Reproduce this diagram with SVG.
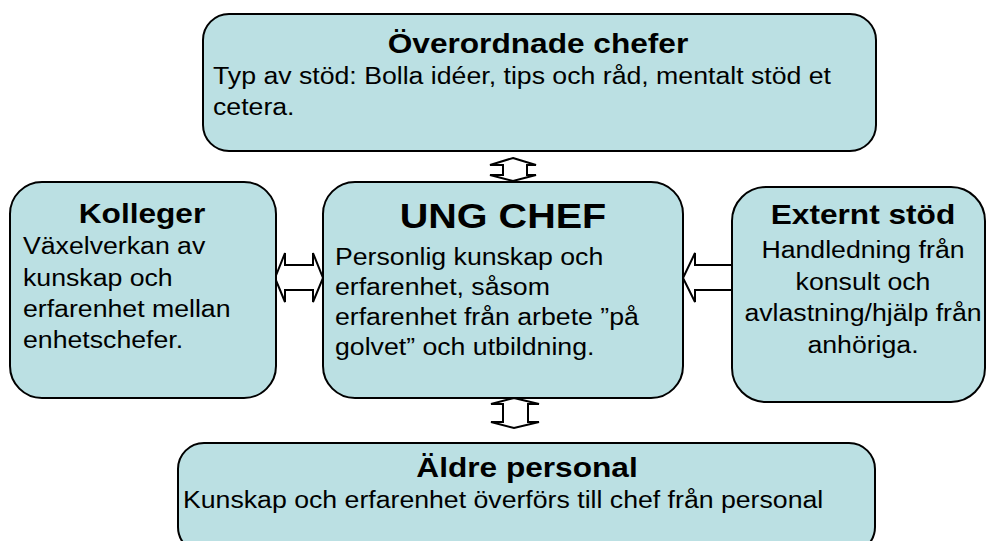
<svg xmlns="http://www.w3.org/2000/svg" width="987" height="541" viewBox="0 0 987 541">
<style>
.box{fill:#BBE0E3;stroke:#000;stroke-width:2}
.t{font-family:"Liberation Sans",Arial,sans-serif;fill:#000}
.h{font-weight:bold;font-size:28px}
.b{font-size:23px}
.arr{fill:#fff;stroke:#000;stroke-width:2;stroke-linejoin:miter}
</style>
<rect width="987" height="541" fill="#fff"/>
<g id="connectors">
<path class="arr" d="M513,158 L536,165 L527,165 L527,175 L536,175 L513,181 L490,175 L503,175 L503,165 L490,165 Z"/>
<path class="arr" d="M514,398 L539,404 L528,404 L528,422 L539,422 L514,428 L491,422 L503,422 L503,404 L491,404 Z"/>
<path class="arr" d="M275,278 L285,253 L285,265 L313,265 L313,253 L323,278 L313,302 L313,290 L285,290 L285,302 Z"/>
<path class="arr" d="M683,278 L695,253 L695,265 L732,265 L732,290 L695,290 L695,302 Z"/>
</g>
<g id="overordnade">
<rect class="box" x="203" y="14" width="673" height="137" rx="26"/>
<text class="t h" transform="translate(538,53) scale(1.13,1)" text-anchor="middle">Överordnade chefer</text>
<text class="t b" transform="translate(213,84) scale(1.16,1)">Typ av stöd: Bolla idéer, tips och råd, mentalt stöd et</text>
<text class="t b" transform="translate(213,115) scale(1.16,1)">cetera.</text>
</g>
<g id="kolleger">
<rect class="box" x="10" y="182" width="266" height="216" rx="32"/>
<text class="t h" transform="translate(142,223) scale(1.13,1)" text-anchor="middle">Kolleger</text>
<text class="t b" transform="translate(23,254) scale(1.16,1)">Växelverkan av</text>
<text class="t b" transform="translate(23,286) scale(1.16,1)">kunskap och</text>
<text class="t b" transform="translate(23,317) scale(1.16,1)">erfarenhet mellan</text>
<text class="t b" transform="translate(23,348) scale(1.16,1)">enhetschefer.</text>
</g>
<g id="ungchef">
<rect class="box" x="323" y="182" width="360" height="216" rx="32"/>
<text class="t" transform="translate(503,228) scale(1.13,1)" text-anchor="middle" font-weight="bold" font-size="35">UNG CHEF</text>
<text class="t b" transform="translate(335,265) scale(1.16,1)">Personlig kunskap och</text>
<text class="t b" transform="translate(335,295) scale(1.16,1)">erfarenhet, såsom</text>
<text class="t b" transform="translate(335,325) scale(1.16,1)">erfarenhet från arbete ”på</text>
<text class="t b" transform="translate(335,355) scale(1.16,1)">golvet” och utbildning.</text>
</g>
<g id="externt">
<rect class="box" x="732" y="187" width="253" height="215" rx="34"/>
<text class="t h" transform="translate(863,224) scale(1.13,1)" text-anchor="middle">Externt stöd</text>
<text class="t b" transform="translate(863,258) scale(1.16,1)" text-anchor="middle">Handledning från</text>
<text class="t b" transform="translate(863,290) scale(1.16,1)" text-anchor="middle">konsult och</text>
<text class="t b" transform="translate(863,321) scale(1.16,1)" text-anchor="middle">avlastning/hjälp från</text>
<text class="t b" transform="translate(863,353) scale(1.16,1)" text-anchor="middle">anhöriga.</text>
</g>
<g id="aldre">
<rect class="box" x="178" y="443" width="697" height="110" rx="26"/>
<text class="t h" transform="translate(527,477) scale(1.13,1)" text-anchor="middle">Äldre personal</text>
<text class="t b" transform="translate(183,508) scale(1.16,1)">Kunskap och erfarenhet överförs till chef från personal</text>
</g>
</svg>
